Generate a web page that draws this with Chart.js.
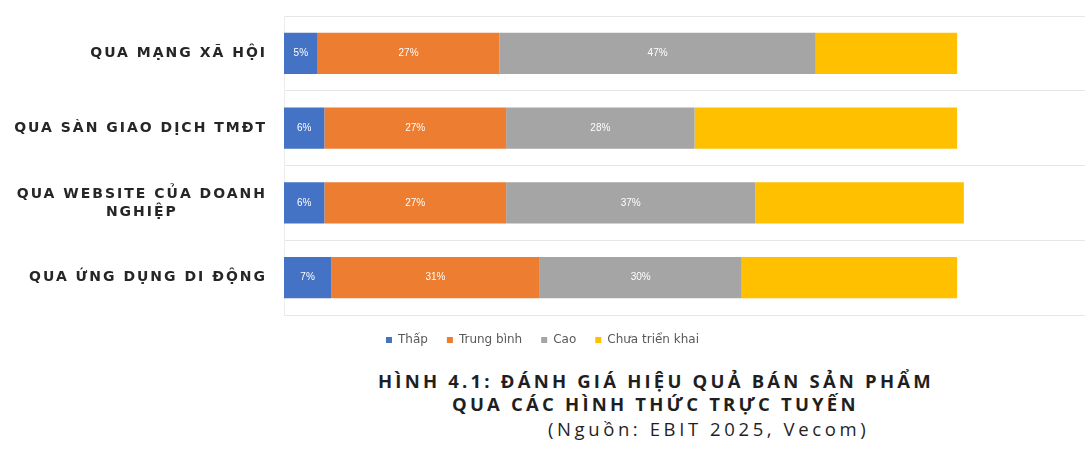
<!DOCTYPE html>
<html>
<head>
<meta charset="utf-8">
<script src="https://cdn.jsdelivr.net/npm/chart.js@4.4.1/dist/chart.umd.min.js"></script>
<style>
  body { margin: 0; background: #fff; width: 1085px; height: 450px; overflow: hidden; position: relative; }
  #wrap { position: absolute; left: 0; top: 0; width: 1085px; height: 356px; }
  .cap { position: absolute; font-family: "Open Sans", "Noto Sans", sans-serif; color: #1f1f1f; white-space: nowrap; font-size: 18.5px; line-height: 25px; }
  #t1 { left: 378px; top: 368px; font-weight: bold; letter-spacing: 3.2px; }
  #t2 { left: 452px; top: 391px; font-weight: bold; letter-spacing: 3.2px; }
  #t3 { left: 548px; top: 416px; letter-spacing: 3.6px; }
</style>
</head>
<body>
<div id="wrap"><canvas id="myChart"></canvas></div>
<div class="cap" id="t1">HÌNH 4.1: ĐÁNH GIÁ HIỆU QUẢ BÁN SẢN PHẨM</div>
<div class="cap" id="t2">QUA CÁC HÌNH THỨC TRỰC TUYẾN</div>
<div class="cap" id="t3">(Nguồn: EBIT 2025, Vecom)</div>
<script>
var categories = [
	['QUA MẠNG XÃ HỘI'],
	['QUA SÀN GIAO DỊCH TMĐT'],
	['QUA WEBSITE CỦA DOANH', 'NGHIỆP'],
	['QUA ỨNG DỤNG DI ĐỘNG']
];
var thap = [5, 6, 6, 7];
var trungBinh = [27, 27, 27, 31];
var cao = [47, 28, 37, 30];
var chuaTrienKhai = [21, 39, 31, 32];
var seriesNames = ['Thấp', 'Trung bình', 'Cao', 'Chưa triển khai'];
var seriesColors = ['#4472C4', '#ED7D31', '#A5A5A5', '#FFC000'];

// y labels drawn by hand so the two-line one can be centred
var yLabelsPlugin = {
	id: 'yLabels',
	afterDraw: function(chart) {
		var ctx = chart.ctx;
		var yScale = chart.scales.y;
		var right = chart.chartArea.left - 17;
		ctx.save();
		ctx.font = 'bold 14px "DejaVu Sans", sans-serif';
		ctx.letterSpacing = '2px';
		ctx.fillStyle = '#262626';
		ctx.textBaseline = 'middle';
		categories.forEach(function(lines, i) {
			var y = yScale.getPixelForTick(i);
			var lineH = 18;
			var y0 = y - (lines.length - 1) * lineH / 2;
			if (lines.length == 1) {
				ctx.textAlign = 'right';
				ctx.fillText(lines[0], right, y0);
			} else {
				var widest = 0;
				lines.forEach(function(l) { widest = Math.max(widest, ctx.measureText(l).width); });
				ctx.textAlign = 'center';
				lines.forEach(function(l, j) {
					ctx.fillText(l, right - widest / 2, y0 + j * lineH);
				});
			}
		});
		ctx.restore();
	}
};

// percentage text inside the first three segments
var valueLabelsPlugin = {
	id: 'valueLabels',
	afterDatasetsDraw: function(chart) {
		var ctx = chart.ctx;
		ctx.save();
		ctx.font = '10px "Liberation Sans", sans-serif';
		ctx.fillStyle = '#ffffff';
		ctx.textAlign = 'center';
		ctx.textBaseline = 'middle';
		for (var d = 0; d < 3; d++) {
			var meta = chart.getDatasetMeta(d);
			meta.data.forEach(function(bar, i) {
				var v = chart.data.datasets[d].data[i];
				ctx.fillText(v + '%', (bar.x + bar.base) / 2, bar.y);
			});
		}
		ctx.restore();
	}
};

var ctx = document.getElementById('myChart').getContext('2d');
var myChart = new Chart(ctx, {
	type: 'bar',
	data: {
		labels: categories,
		datasets: [thap, trungBinh, cao, chuaTrienKhai].map(function(values, k) {
			return {
				label: seriesNames[k],
				data: values,
				backgroundColor: seriesColors[k],
				borderWidth: 0,
				barPercentage: 0.55,
				categoryPercentage: 1.0
			};
		})
	},
	options: {
		indexAxis: 'y',
		responsive: true,
		maintainAspectRatio: false,
		animation: false,
		layout: { padding: { top: 16, right: 0, bottom: 0, left: 0 } },
		scales: {
			x: {
				stacked: true,
				min: 0,
				max: 119,
				display: false
			},
			y: {
				stacked: true,
				grid: { color: '#e6e6e6', offset: true, drawTicks: false },
				border: { display: true, color: '#ececec' },
				ticks: { display: false },
				afterFit: function(scale) { scale.width = 284; }
			}
		},
		plugins: {
			legend: {
				position: 'bottom',
				labels: {
					boxWidth: 6,
					boxHeight: 6,
					padding: 19,
					color: '#595959',
					font: { size: 12, family: '"DejaVu Sans", sans-serif' }
				}
			},
			tooltip: { enabled: false }
		}
	},
	plugins: [yLabelsPlugin, valueLabelsPlugin]
});
</script>
</body>
</html>
